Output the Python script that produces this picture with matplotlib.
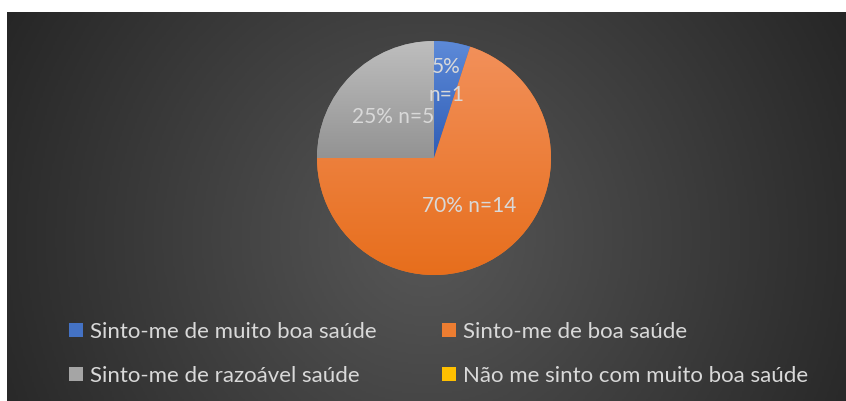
import numpy as np
import matplotlib
matplotlib.use("Agg")
import matplotlib.pyplot as plt
from matplotlib.colors import LinearSegmentedColormap
from matplotlib.patches import Patch

# data
categories = ["Sinto-me de muito boa saúde", "Sinto-me de boa saúde",
              "Sinto-me de razoável saúde", "Não me sinto com muito boa saúde"]
counts = [1, 14, 5, 0]
percents = [5, 70, 25, 0]

# styles
colors = ["#4472C4", "#ED7D31", "#A5A5A5", "#FFC000"]
tops = ["#5D8AD8", "#F2905A", "#BEBEBE", "#FFD54A"]
bottoms = ["#2F5DB6", "#E76E1C", "#939393", "#F2B300"]
label_sep = ["\n", " ", " ", " "]
label_dist = [0.67, 0.51, 0.49, 0.5]
txt_color = "#D9D9D9"

plt.rcParams['font.family'] = ['Lato', 'DejaVu Sans']

W, H = 846, 401
fig = plt.figure(figsize=(W / 100, H / 100), dpi=100)
fig.patch.set_facecolor("white")

# dark radial background
bg = fig.add_axes([7 / W, 0, (W - 7) / W, (H - 12) / H])
yy, xx = np.mgrid[0:1:200j, 0:1:400j]
d = np.hypot((xx - 0.5) * 839, (yy - 0.42) * 389) / 480
d = np.clip(d, 0, 1)
bg_cmap = LinearSegmentedColormap.from_list("bg", ["#575757", "#262626"])
bg.imshow(d, cmap=bg_cmap, extent=(0, 1, 0, 1), origin="lower", aspect="auto",
          vmin=0, vmax=1)
bg.set_axis_off()

# pie
cx, cy, r = 434, 158, 117
ax = fig.add_axes([(cx - r) / W, (H - cy - r) / H, 2 * r / W, 2 * r / H])
wedges, _ = ax.pie(counts, colors=colors, startangle=90, counterclock=False,
                   wedgeprops=dict(linewidth=0))

grad = np.linspace(0, 1, 256).reshape(-1, 1)
for w, c0, c1 in zip(wedges, bottoms, tops):
    if w.theta2 - w.theta1 <= 0:
        continue
    v = w.get_path().vertices
    cm = LinearSegmentedColormap.from_list("g", [c0, c1])
    im = ax.imshow(grad, extent=(v[:, 0].min(), v[:, 0].max(), v[:, 1].min(), v[:, 1].max()),
                   origin="lower", cmap=cm, aspect="auto", zorder=w.get_zorder() + 0.1)
    im.set_clip_path(w)

for i, w in enumerate(wedges):
    if counts[i] == 0:
        continue
    a = np.deg2rad((w.theta1 + w.theta2) / 2)
    ax.text(label_dist[i] * np.cos(a), label_dist[i] * np.sin(a),
            f"{percents[i]}%{label_sep[i]}n={counts[i]}",
            ha="center", va="center", multialignment="center", linespacing=1.5,
            color=txt_color, fontsize=15, zorder=5)

ax.set_xlim(-1, 1)
ax.set_ylim(-1, 1)
ax.set_axis_off()

# legend, two columns, row-wise order
handles = [Patch(facecolor=c, edgecolor="none") for c in colors]
leg_kw = dict(loc="center left", frameon=False, fontsize=16, labelcolor=txt_color,
              handlelength=0.65, handleheight=0.6, handletextpad=0.28,
              labelspacing=1.1, borderpad=0, borderaxespad=0)
fig.legend([handles[0], handles[2]], [categories[0], categories[2]],
           bbox_to_anchor=(69 / W, 1 - 354 / H), **leg_kw)
fig.legend([handles[1], handles[3]], [categories[1], categories[3]],
           bbox_to_anchor=(442 / W, 1 - 354 / H), **leg_kw)

fig.savefig("out.png", dpi=100)
